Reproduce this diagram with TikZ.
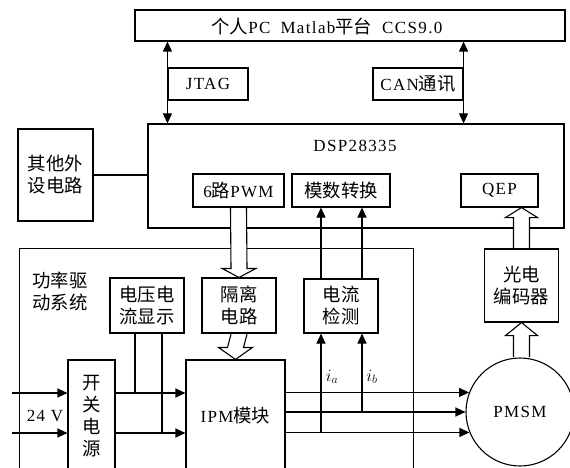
\documentclass[tikz,border=0pt]{standalone}
\usepackage{fontspec}
\setmainfont{Liberation Serif}[LetterSpace=8]
\newfontfamily\zhfont{Noto Sans CJK SC}[Scale=1.08]
\newcommand\zh[1]{{\zhfont #1}}
\usetikzlibrary{arrows.meta,calc}
\newcommand\hdown[3]{%
  \draw[hollow] ($(#1)+(-8,0.6)$) -- ($(#2)+(-8,-#3)$) -- ($(#2)+(-17,-#3)$) -- (#2)
    -- ($(#2)+(17,-#3)$) -- ($(#2)+(8,-#3)$) -- ($(#1)+(8,0.6)$);}
\newcommand\hup[3]{%
  \draw[hollow] ($(#1)+(-8,-0.6)$) -- ($(#2)+(-8,#3)$) -- ($(#2)+(-16,#3)$) -- (#2)
    -- ($(#2)+(16,#3)$) -- ($(#2)+(8,#3)$) -- ($(#1)+(8,-0.6)$);}
\begin{document}
\begin{tikzpicture}[x=1pt,y=-1pt,line width=1.1pt,
  box/.style={draw,rectangle,inner sep=0pt,align=center,font=\fontsize{17}{22}\selectfont},
  txt/.style={inner sep=0pt,align=center,font=\fontsize{17}{22}\selectfont},
  arr/.style={-{Triangle[length=10pt,width=9pt]}},
  darr/.style={{Triangle[length=10pt,width=9pt]}-{Triangle[length=10pt,width=9pt]}},
  hollow/.style={draw,fill=white,line join=miter}]
\useasboundingbox (0,0) rectangle (570,468);
\clip (0,0) rectangle (570,468);
% boxes
\node[box,minimum width=430,minimum height=31] (pc) at (350,25.5) {};
\node[txt] (pct) at (327,26) {\zh{个人}PC\hspace{10pt}Matlab\zh{平台}\hspace{10pt}CCS9.0};
\node[box,minimum width=80,minimum height=32] (jtag) at (208,84) {JTAG};
\node[box,minimum width=90,minimum height=32] (can) at (418,84) {CAN\zh{通讯}};
\node[box,minimum width=416,minimum height=104] (dsp) at (356,176) {};
\node[txt] (dspt) at (355,146) {DSP28335};
\node[box,minimum width=91,minimum height=33] (pwm) at (238.5,190.5) {6\zh{路}PWM};
\node[box,minimum width=98,minimum height=33] (adc) at (341,190.5) {\zh{模数转换}};
\node[box,minimum width=77,minimum height=33] (qep) at (499.5,190.5) {QEP};
\node[box,minimum width=75,minimum height=92] (oth) at (55.5,175) {\zh{其他外}\\\zh{设电路}};
\node[box,minimum width=394,minimum height=240,anchor=north west] (drv) at (19,248) {};
\node[txt] (drvt) at (60,291) {\zh{功率驱}\\\zh{动系统}};
\node[box,minimum width=74,minimum height=55] (iso) at (239,305.5) {\zh{隔离}\\\zh{电路}};
\node[box,minimum width=74,minimum height=55] (vd) at (147,305.5) {\zh{电压电}\\\zh{流显示}};
\node[box,minimum width=74,minimum height=54] (cur) at (341,306) {\zh{电流}\\\zh{检测}};
\node[box,minimum width=74,minimum height=73] (enc) at (521.5,285.5) {\zh{光电}\\\zh{编码器}};
\node[box,minimum width=99,minimum height=112] (ipm) at (235.5,416) {IPM\zh{模块}};
\node[box,minimum width=47,minimum height=112] (psu) at (91.5,416) {\zh{开}\\\zh{关}\\\zh{电}\\\zh{源}};
\node[box,circle,minimum size=108] (pm) at (520,412) {PMSM};
\node[txt] (v24) at (45,416) {24 V};
\node[txt] (ia) at (332,377) {$i_a$};
\node[txt] (ib) at (372,377) {$i_b$};
% coordinates
\coordinate (l1) at (0,393);
\coordinate (l3) at (0,433);
\coordinate (in1) at (12,393);
\coordinate (in2) at (12,433);
\coordinate (vd1) at ($(vd.south)+(-12,0)$);
\coordinate (vd2) at ($(vd.south)+(15,0)$);
\coordinate (ca) at ($(cur.south)+(-20,0)$);
\coordinate (cb) at ($(cur.south)+(21,0)$);
\coordinate (e1) at (enc.south |- pm.north);
\coordinate (q1) at (enc.north |- qep.south);
% connectors
\draw[darr] (jtag.west |- pc.south) -- (jtag.west |- dsp.north);
\draw[darr] (can.east |- pc.south) -- (can.east |- dsp.north);
\draw (oth.east) -- (oth.east -| dsp.west);
\draw[arr] (in1) -- (in1 -| psu.west);
\draw[arr] (in2) -- (in2 -| psu.west);
\draw[arr] (l1 -| psu.east) -- (l1 -| ipm.west);
\draw[arr] (l3 -| psu.east) -- (l3 -| ipm.west);
\draw (vd1) -- (vd1 |- l1);
\draw (vd2) -- (vd2 |- l3);
\draw[arr] (ipm.east |- pm.159.4) -- (pm.159.4);
\draw[arr] (ipm.east |- pm.west) -- (pm.west);
\draw[arr] (ipm.east |- pm.202.9) -- (pm.202.9);
\draw[arr] (ca |- pm.202.9) -- (ca);
\draw[arr] (cb |- pm.west) -- (cb);
\draw[arr] (ca |- cur.north) -- (ca |- adc.south);
\draw[arr] (cb |- cur.north) -- (cb |- adc.south);
\hdown{pwm.south}{iso.north}{9}
\hdown{iso.south}{ipm.north}{12}
\hup{e1}{enc.south}{13}
\hup{enc.north}{q1}{10}
\end{tikzpicture}
\end{document}
